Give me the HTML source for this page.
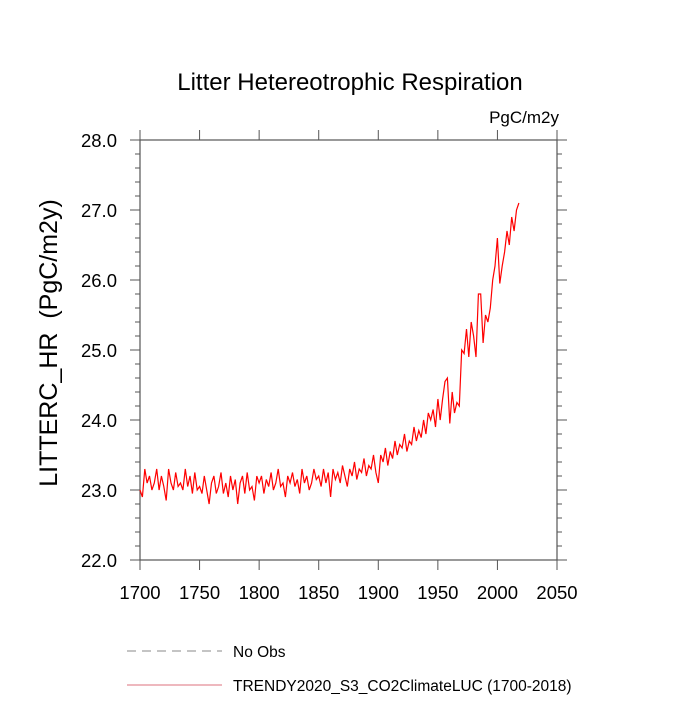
<!DOCTYPE html>
<html><head><meta charset="utf-8"><style>
body{margin:0;background:#fff;font-family:"Liberation Sans",sans-serif}
</style></head><body>
<svg id="c" width="700" height="700" xmlns="http://www.w3.org/2000/svg" font-family="Liberation Sans, sans-serif">
<text x="350" y="90" font-size="24" text-anchor="middle">Litter Hetereotrophic Respiration</text>
<text x="559" y="123" font-size="17" text-anchor="end">PgC/m2y</text>
<text transform="translate(57,343) rotate(-90)" font-size="25" text-anchor="middle" xml:space="preserve">LITTERC_HR  (PgC/m2y)</text>
<rect x="140" y="140" width="417" height="420" fill="none" stroke="#555" stroke-width="1.2"/>
<g id="axes"></g>
<path id="series" fill="none" stroke="#f00" stroke-width="1.2"/>
<line x1="127" y1="651" x2="222" y2="651" stroke="#888" stroke-dasharray="9,6"/>
<text x="233" y="657" font-size="15.5">No Obs</text>
<line x1="127" y1="685" x2="222" y2="685" stroke="#d04050" stroke-width="0.8"/>
<text x="233" y="691" font-size="15.5">TRENDY2020_S3_CO2ClimateLUC (1700-2018)</text>
</svg>
<script>
const years=[];for(let y=1700;y<=2018;y+=2)years.push(y);
const values=[23.0,22.9,23.3,23.1,23.2,23.0,23.1,23.3,23.0,23.2,23.05,22.85,23.3,23.1,23.0,23.25,23.05,23.1,23.0,23.3,23.05,
23.2,22.95,23.25,23.0,23.05,22.95,23.2,23.0,22.8,23.1,23.2,22.95,23.05,23.25,22.95,23.1,22.9,23.2,23.0,23.15,22.8,23.1,23.2,22.95,23.25,23.0,23.05,22.85,23.2,
23.1,23.2,22.95,23.15,23.05,23.25,23.0,23.1,23.3,23.05,23.1,22.9,23.2,23.1,23.25,23.05,23.15,22.95,23.3,23.1,23.2,23.0,23.1,23.3,23.15,
23.2,23.05,23.3,23.1,23.25,22.9,23.3,23.15,23.25,23.1,23.35,23.2,23.05,23.3,23.2,23.4,23.15,23.3,23.25,23.45,23.2,23.35,23.3,23.5,23.25,
23.1,23.5,23.4,23.6,23.35,23.55,23.45,23.7,23.5,23.65,23.6,23.8,23.55,23.7,23.65,23.9,23.7,23.85,23.75,24.0,23.8,24.1,24.0,24.15,23.9,
24.3,24.0,24.3,24.55,24.6,23.95,24.4,24.1,24.25,24.2,25.0,24.95,25.3,24.9,25.4,25.2,24.9,25.8,25.8,25.1,25.5,25.4,25.6,26.0,26.2,
26.6,25.95,26.2,26.4,26.7,26.5,26.9,26.7,27.0,27.1];
const xTicks=[1700,1750,1800,1850,1900,1950,2000,2050];
const yTicks=[22,23,24,25,26,27,28];
const X=v=>140+(v-1700)*417/350, Y=v=>560-(v-22)*70;
const NS="http://www.w3.org/2000/svg";
const g=document.getElementById('axes');
function ln(x1,y1,x2,y2,n){const l=document.createElementNS(NS,'line');
l.setAttribute('x1',x1);l.setAttribute('y1',y1);l.setAttribute('x2',x2);l.setAttribute('y2',y2);
l.setAttribute('stroke','#555');l.setAttribute('stroke-width','1');

g.appendChild(l);}
function tx(x,y,s,a,n){const t=document.createElementNS(NS,'text');
t.setAttribute('x',x);t.setAttribute('y',y);t.setAttribute('font-size','18.5');t.setAttribute('text-anchor',a);t.textContent=s;

g.appendChild(t);}
xTicks.forEach(v=>{const x=X(v);ln(x,560,x,570,'x-tick');ln(x,140,x,130,'x-tick-top');});
for(let v=22;v<=28.001;v+=0.2){const y=Y(v),m=Math.abs(v-Math.round(v))<1e-6;const L=m?10:5;
ln(140,y,140-L,y,'y-tick');ln(557,y,557+L,y,'y-tick-right');}
xTicks.forEach(v=>tx(X(v),599,String(v),'middle','x-tick-label'));
yTicks.forEach(v=>tx(117,Y(v)+7,v.toFixed(1),'end','y-tick-label'));
document.getElementById('series').setAttribute('d',values.map((v,i)=>(i?'L':'M')+X(years[i]).toFixed(1)+','+Y(v).toFixed(1)).join(''));
</script>
</body></html>
